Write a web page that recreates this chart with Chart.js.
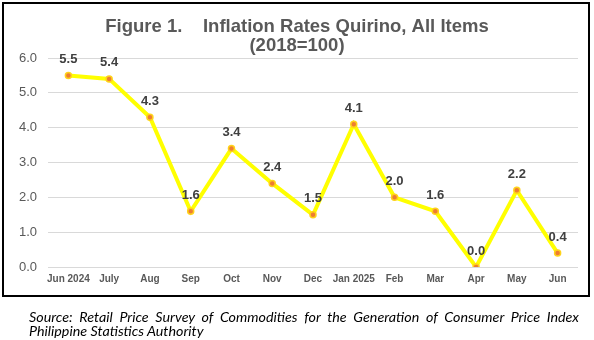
<!DOCTYPE html>
<html>
<head>
<meta charset="utf-8">
<script src="https://cdn.jsdelivr.net/npm/chart.js@4"></script>
<style>
  html, body { margin: 0; padding: 0; background: #fff; }
  body { width: 594px; height: 340px; position: relative; overflow: hidden; }
  #wrap { position: absolute; left: 0; top: 0; width: 594px; height: 300px; }
  #frame { position: absolute; left: 2px; top: 2px; width: 588px; height: 295px;
           box-sizing: border-box; border: 2px solid #000; pointer-events: none; }
  .src { position: absolute; left: 29px; width: 550px; font-family: Lato, "Open Sans", sans-serif;
         font-style: italic; font-size: 14.3px; line-height: 14px; color: #000; white-space: nowrap; }
  #src1 { top: 310px; text-align: justify; text-align-last: justify; white-space: normal; }
  #src2 { top: 324px; }
</style>
</head>
<body>
<div id="wrap"><canvas id="chart" width="594" height="300"></canvas></div>
<div id="frame"></div>
<div class="src" id="src1">Source: Retail Price Survey of Commodities for the Generation of Consumer Price Index</div>
<div class="src" id="src2">Philippine Statistics Authority</div>
<script>
// Monthly headline inflation, Quirino (2018=100)
const months = ['Jun 2024', 'July', 'Aug', 'Sep', 'Oct', 'Nov', 'Dec',
                'Jan 2025', 'Feb', 'Mar', 'Apr', 'May', 'Jun'];
const inflationRates = [5.5, 5.4, 4.3, 1.6, 3.4, 2.4, 1.5, 4.1, 2.0, 1.6, 0.0, 2.2, 0.4];
const titleLines = ['Figure 1.    Inflation Rates Quirino, All Items', '(2018=100)'];

// Writes each value (one decimal) just above its point
const pointValueLabels = {
  id: 'pointValueLabels',
  afterDatasetsDraw(chart) {
    const ctx = chart.ctx;
    const meta = chart.getDatasetMeta(0);
    ctx.save();
    ctx.font = 'bold 13px "Liberation Sans", Arial, sans-serif';
    ctx.fillStyle = '#404040';
    ctx.textAlign = 'center';
    ctx.textBaseline = 'middle';
    meta.data.forEach((pt, i) => {
      ctx.fillText(inflationRates[i].toFixed(1), pt.x, pt.y - 16);
    });
    ctx.restore();
  }
};

new Chart(document.getElementById('chart'), {
  type: 'line',
  data: {
    labels: months,
    datasets: [{
      data: inflationRates,
      borderColor: '#FFFF00',
      borderWidth: 4,
      tension: 0,
      pointRadius: 3,
      pointBorderWidth: 1.5,
      pointBackgroundColor: '#ED7D31',
      pointBorderColor: '#FFD21A',
      pointHoverRadius: 3
    }]
  },
  options: {
    responsive: false,
    animation: false,
    layout: { padding: { left: 0, right: 0, top: 0, bottom: 9 } },
    plugins: {
      legend: { display: false },
      tooltip: { enabled: false },
      title: {
        display: true,
        text: titleLines,
        color: '#595959',
        font: { family: '"Liberation Sans", Arial, sans-serif', size: 18.5, weight: 'bold', lineHeight: 1.0 },
        padding: { top: 18, bottom: 3 }
      }
    },
    scales: {
      x: {
        offset: true,
        grid: { display: false, drawTicks: false },
        border: { display: false },
        ticks: {
          color: '#595959',
          padding: 6,
          maxRotation: 0,
          autoSkip: false,
          font: { family: '"Liberation Sans", Arial, sans-serif', size: 10, weight: 'bold' }
        }
      },
      y: {
        min: 0,
        max: 6,
        afterFit(scale) { scale.width = 48; },
        grid: { color: '#D9D9D9', lineWidth: 1, drawTicks: false },
        border: { display: false },
        ticks: {
          stepSize: 1,
          padding: 11,
          color: '#595959',
          font: { family: '"Liberation Sans", Arial, sans-serif', size: 13 },
          callback: v => Number(v).toFixed(1)
        }
      },
      // empty right-hand margin beside the plot
      yRight: {
        position: 'right',
        min: 0,
        max: 6,
        afterFit(scale) { scale.width = 16; },
        grid: { display: false, drawTicks: false },
        border: { display: false },
        ticks: { display: false }
      }
    }
  },
  plugins: [pointValueLabels]
});
</script>
</body>
</html>
